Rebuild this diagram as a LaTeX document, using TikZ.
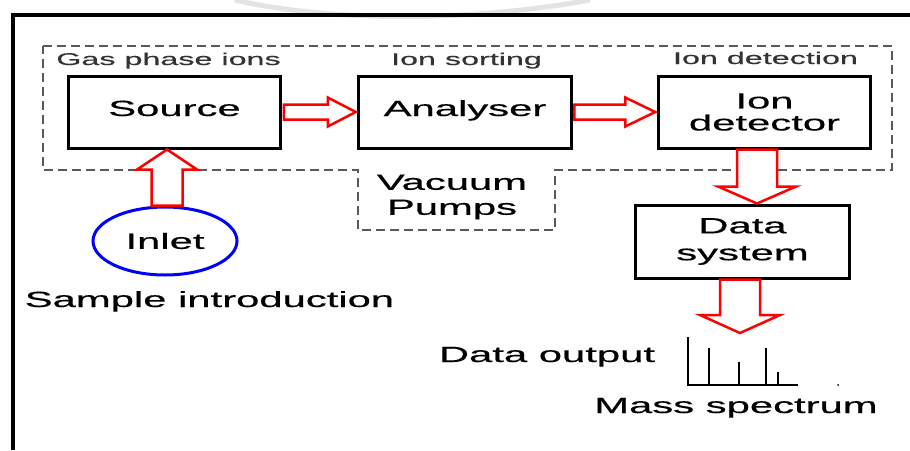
\documentclass[tikz,border=0pt]{standalone}
\usepackage{fontspec}
\setmainfont{Liberation Sans}[FakeBold=0.35]
\usetikzlibrary{calc,shapes.geometric}

\definecolor{dashgrey}{rgb}{0.35,0.35,0.35}
\definecolor{labelgrey}{rgb}{0.2,0.2,0.2}
\definecolor{markgrey}{rgb}{0.89,0.89,0.89}

% hollow red block arrow: from, to, shaft half width, head half width, head length
\newcommand{\blockarrow}[5]{%
  \draw[hollowarrow] let \p1=#1, \p2=#2, \n1={atan2(\y2-\y1,\x2-\x1)}, \n2={veclen(\x2-\x1,\y2-\y1)} in
    [shift={(\p1)},rotate=\n1,x=1pt,y=1pt]
    (0,-#3)--(\n2-#5,-#3)--(\n2-#5,-#4)--(\n2,0)--(\n2-#5,#4)--(\n2-#5,#3)--(0,#3)--cycle;}

\begin{document}
\begin{tikzpicture}[x=1pt,y=-1pt,line join=miter,
  unitbox/.style={draw,line width=3pt,xscale=1.9,minimum width=112pt,minimum height=72pt,inner sep=0pt,
    font=\fontsize{22}{22}\selectfont,align=center},
  stagelabel/.style={font=\fontsize{17}{20}\selectfont,xscale=1.9,text=labelgrey,inner sep=0pt},
  freetext/.style={font=\fontsize{22}{25}\selectfont,xscale=1.9,align=center,inner sep=0pt},
  hollowarrow/.style={draw=red,line width=2.5pt,fill=white}]
  \useasboundingbox (0,0) rectangle (910,450);
  % faint background mark and frame
  \draw[markgrey,line width=5pt] (235,0) .. controls (330,22) and (470,22) .. (590,0);
  \draw[line width=3.5pt] (13,450) -- (13,15) -- (910,15);
  % vacuum region
  \draw[dashgrey,line width=1.5pt,dash pattern=on 9pt off 5pt]
    (43,46) -- (892,46) -- (892,170) -- (555,170) -- (555,230) -- (358,230) -- (358,170) -- (43,170) -- cycle;
  \node[stagelabel,anchor=base] (gaslabel) at (168.5,65) {Gas phase ions};
  \node[stagelabel,anchor=base] (sortlabel) at (466.5,65) {Ion sorting};
  \node[stagelabel,anchor=base] (detlabel) at (765.5,64) {Ion detection};
  \node[freetext] (pumps) at (452,197) {Vacuum\\Pumps};
  % units
  \node[unitbox,text height=16pt,text depth=8pt] (src) at (174.5,112) {Source};
  \node[unitbox,text height=16pt,text depth=8pt] (ana) at (465,112) {Analyser};
  \node[unitbox] (det) at (764.5,112) {Ion\\detector};
  \node[unitbox,font=\fontsize{22}{27}\selectfont,minimum width=113pt,minimum height=73pt] (data) at (742.5,241.5) {Data\\system};
  \node[draw=blue,line width=3pt,ellipse,xscale=1.9,minimum width=75.8pt,minimum height=68pt,inner sep=0pt,
    font=\fontsize{22}{22}\selectfont] (inlet) at (165,241) {Inlet};
  \node[freetext,anchor=base] (samplelabel) at (209.5,307) {Sample introduction};
  % arrows
  \blockarrow{(src.east)}{(ana.west)}{7.5}{14.5}{28}
  \blockarrow{(ana.east)}{(det.west)}{7.5}{14.5}{30}
  \blockarrow{([xshift=2pt]inlet.north)}{([xshift=2pt]inlet.north |- src.south)}{15.5}{30}{20}
  \blockarrow{([xshift=-7.5pt]det.south)}{([xshift=-7.5pt]det.south |- data.north)}{20}{39}{17}
  \coordinate (spectip) at (740,333);
  \blockarrow{(data.south -| spectip)}{(spectip)}{20}{40}{18}
  % spectrum
  \node[freetext,anchor=base] (outlabel) at (547,362) {Data output};
  \draw[line width=2.5pt] (688,337) -- (688,385) -- (798,385);
  \draw[line width=1.2pt] (709,385) -- (709,348);
  \draw[line width=1.2pt] (739,385) -- (739,362);
  \draw[line width=1.2pt] (766,385) -- (766,348);
  \draw[line width=1.2pt] (778,385) -- (778,372);
  \fill (838,385) circle (1pt);
  \node[freetext,anchor=base] (speclabel) at (736,413) {Mass spectrum};
\end{tikzpicture}
\end{document}
